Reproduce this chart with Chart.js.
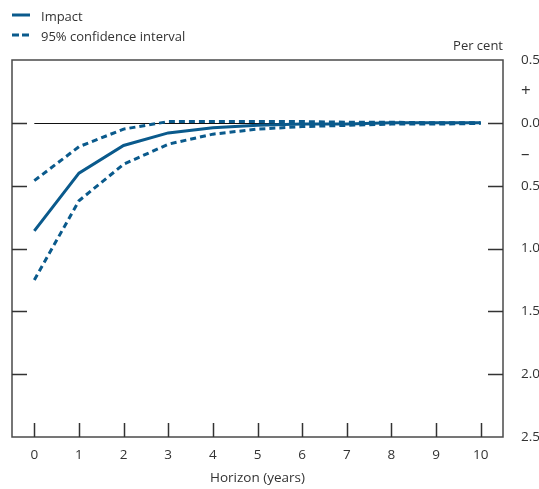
<!DOCTYPE html>
<html>
<head>
<meta charset="utf-8">
<script src="https://cdn.jsdelivr.net/npm/chart.js@4/dist/chart.umd.min.js"></script>
<style>
  html, body { margin: 0; padding: 0; background: #fff; }
  #wrap { width: 539px; height: 489px; }
</style>
</head>
<body>
<div id="wrap"><canvas id="chart"></canvas></div>
<script>
// data (per cent, negative = below zero)
const years = ['0', '1', '2', '3', '4', '5', '6', '7', '8', '9', '10'];
const impact = [-0.86, -0.40, -0.18, -0.08, -0.04, -0.02, -0.01, -0.01, 0, 0, 0];
const upperBand = [-0.46, -0.19, -0.05, 0.01, 0.01, 0.01, 0.01, 0.005, 0.005, 0, 0];
const lowerBand = [-1.25, -0.62, -0.33, -0.17, -0.09, -0.05, -0.03, -0.02, -0.01, -0.01, -0.005];
const yTicks = [0.5, 0.25, 0, -0.25, -0.5, -1, -1.5, -2, -2.5];
const markTicks = [0, -0.5, -1, -1.5, -2];

const blue = '#0a5a8c';
const textCol = '#333333';
const fontName = "'Open Sans', sans-serif";

// legend, frame, inward ticks, zero line and "Per cent"
const framePlugin = {
  id: 'frame',
  beforeDatasetsDraw(chart) {
    const ctx = chart.ctx;
    const x = chart.scales.x;
    const y = chart.scales.y;
    ctx.save();
    ctx.strokeStyle = '#111';
    ctx.lineWidth = 1.2;
    const y0 = Math.round(y.getPixelForValue(0)) + 0.5;
    ctx.beginPath();
    ctx.moveTo(x.getPixelForValue(0), y0);
    ctx.lineTo(x.getPixelForValue(10), y0);
    ctx.stroke();
    ctx.restore();
  },
  afterDraw(chart) {
    const ctx = chart.ctx;
    const a = chart.chartArea;
    const x = chart.scales.x;
    const y = chart.scales.y;
    ctx.save();
    ctx.strokeStyle = '#4a4a4a';
    ctx.lineWidth = 1.5;
    ctx.strokeRect(a.left, a.top, a.right - a.left, a.bottom - a.top);
    ctx.strokeStyle = '#333';
    markTicks.forEach(v => {
      const py = Math.round(y.getPixelForValue(v)) + 0.5;
      ctx.beginPath();
      ctx.moveTo(a.left, py);
      ctx.lineTo(a.left + 15, py);
      ctx.moveTo(a.right, py);
      ctx.lineTo(a.right - 15, py);
      ctx.stroke();
    });
    years.forEach((lab, i) => {
      const px = Math.round(x.getPixelForValue(i)) + 0.5;
      ctx.beginPath();
      ctx.moveTo(px, a.bottom);
      ctx.lineTo(px, a.bottom - 14);
      ctx.stroke();
    });
    ctx.fillStyle = textCol;
    ctx.font = '13px ' + fontName;
    ctx.textAlign = 'right';
    ctx.textBaseline = 'alphabetic';
    ctx.fillText('Per cent', a.right, a.top - 10);

    // legend
    const ds = chart.data.datasets;
    ctx.textAlign = 'left';
    [ds[0], ds[1]].forEach((d, i) => {
      const ly = 15 + i * 20;
      ctx.strokeStyle = d.borderColor;
      ctx.lineWidth = 3;
      ctx.setLineDash(d.borderDash ? [7, 3] : []);
      ctx.beginPath();
      ctx.moveTo(12, ly);
      ctx.lineTo(30, ly);
      ctx.stroke();
      ctx.setLineDash([]);
      ctx.fillText(d.label, 41, ly + 6);
    });
    ctx.restore();
  }
};

new Chart(document.getElementById('chart'), {
  type: 'line',
  data: {
    labels: years,
    datasets: [
      {
        label: 'Impact',
        data: impact,
        borderColor: blue,
        borderWidth: 3,
        pointRadius: 0,
        tension: 0
      },
      {
        label: '95% confidence interval',
        data: upperBand,
        borderColor: blue,
        borderWidth: 3,
        borderDash: [6, 4],
        pointRadius: 0,
        tension: 0
      },
      {
        label: 'lower',
        data: lowerBand,
        borderColor: blue,
        borderWidth: 3,
        borderDash: [6, 4],
        pointRadius: 0,
        tension: 0
      }
    ]
  },
  options: {
    responsive: true,
    maintainAspectRatio: false,
    animation: false,
    layout: { padding: { left: 12, right: 0, top: 60, bottom: 0 } },
    plugins: {
      tooltip: { enabled: false },
      legend: { display: false }
    },
    scales: {
      x: {
        type: 'category',
        offset: true,
        grid: { display: false },
        border: { display: false },
        afterFit: scale => { scale.height = 52; },
        ticks: { color: textCol, font: { family: fontName, size: 13.5 }, padding: 2, maxRotation: 0 },
        title: { display: true, text: 'Horizon (years)', color: textCol, font: { family: fontName, size: 13.5 }, padding: { top: 6, bottom: 3 } }
      },
      y: {
        position: 'right',
        min: -2.5,
        max: 0.5,
        grid: { display: false },
        border: { display: false },
        afterBuildTicks: scale => { scale.ticks = yTicks.map(v => ({ value: v })); },
        afterFit: scale => { scale.width = 36; },
        ticks: {
          color: textCol,
          font: c => ({ family: fontName, size: (c.tick && Math.abs(c.tick.value) === 0.25) ? 17 : 13.5 }),
          padding: 10,
          callback: v => {
            if (v === 0.25) return '+';
            if (v === -0.25) return '–';
            return Math.abs(v).toFixed(1);
          }
        }
      }
    }
  },
  plugins: [framePlugin]
});
</script>
</body>
</html>
